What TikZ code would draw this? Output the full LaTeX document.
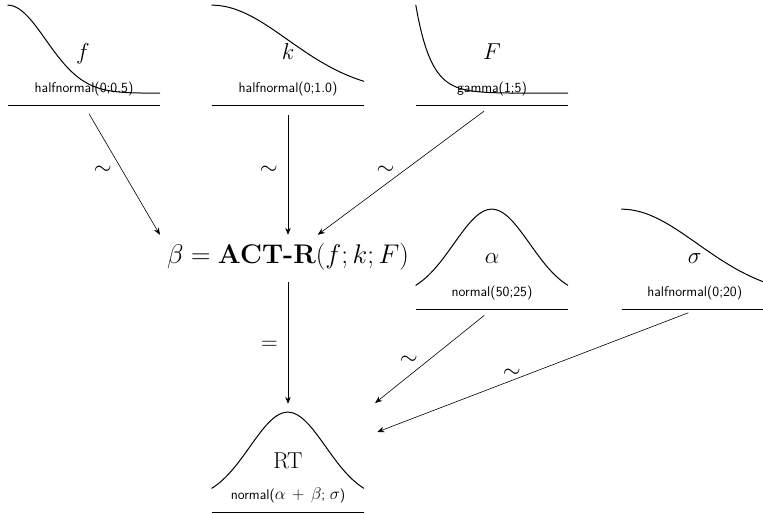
\RequirePackage{fix-cm}
\documentclass[tikz,border=0pt]{standalone}
\usepackage{amsmath}
\usetikzlibrary{arrows.meta,positioning}

\begin{document}
\begin{tikzpicture}[x=1pt,y=1pt,
  box/.style={minimum width=152pt,minimum height=100pt,inner sep=0pt},
  dens/.style={line width=1pt,line cap=round},
  uline/.style={line width=.8pt},
  sym/.style={font=\fontsize{23}{27}\selectfont,inner sep=0pt,anchor=base},
  dname/.style={font=\sffamily\fontsize{14}{16}\selectfont,inner sep=0pt,anchor=base},
  arr/.style={-{Stealth[length=7pt,width=5.5pt]},line width=.6pt},
  rel/.style={font=\fontsize{23}{27}\selectfont,inner sep=0pt,midway,left=10pt}]
\useasboundingbox (0,0) rectangle (763,514);
% priors
\node[box] (f) at (84,459) {};
\node[box] (k) at (288,459) {};
\node[box] (F) at (492,459) {};
\node[box] (alpha) at (492,255) {};
\node[box] (sigma) at (697.7,255) {};
\node[box] (RT) at (288,52) {};
\foreach \b in {f,k,F,alpha,sigma,RT}
  \draw[uline] (\b.south west) -- (\b.south east);
% density curves
\draw[dens,shift={(f.south west)}] plot[domain=0:152,samples=80] (\x,{12+88*exp(-0.5*(\x/38)*(\x/38))});
\draw[dens,shift={(k.south west)}] plot[domain=0:152,samples=80] (\x,{12+88*exp(-0.5*(\x/76)*(\x/76))});
\draw[dens,shift={(F.south west)}] plot[domain=0:152,samples=80] (\x,{12+88*exp(-5*\x/76)});
\draw[dens,shift={(alpha.south west)}] plot[domain=0:152,samples=80] (\x,{12+88*exp(-0.5*((\x-76)/38)*((\x-76)/38))});
\draw[dens,shift={(sigma.south west)}] plot[domain=0:152,samples=80] (\x,{12+88*exp(-0.5*(\x/76)*(\x/76))});
\draw[dens,shift={(RT.south west)}] plot[domain=0:152,samples=80] (\x,{12+88*exp(-0.5*((\x-76)/38)*((\x-76)/38))});
% symbols and distribution names
\node[sym] (fs) at ([xshift=-1pt,yshift=46pt]f.south) {$f$};
\node[sym] (ks) at ([yshift=46pt]k.south) {$k$};
\node[sym] (Fs) at ([yshift=46pt]F.south) {$F$};
\node[sym] (alphas) at ([yshift=46pt]alpha.south) {$\alpha$};
\node[sym] (sigmas) at ([xshift=-3pt,yshift=46pt]sigma.south) {$\sigma$};
\node[sym] (RTs) at ([yshift=44pt]RT.south) {RT};
\node[dname] (fd) at ([yshift=13pt]f.south) {halfnormal(0;0.5)};
\node[dname] (kd) at ([yshift=13pt]k.south) {halfnormal(0;1.0)};
\node[dname] (Fd) at ([yshift=13pt]F.south) {gamma(1;5)};
\node[dname] (alphad) at ([yshift=13pt]alpha.south) {normal(50;25)};
\node[dname] (sigmad) at ([xshift=-3pt,yshift=13pt]sigma.south) {halfnormal(0;20)};
\node[dname] (RTd) at ([yshift=13pt]RT.south) {normal({\fontsize{17}{19}\selectfont$\alpha\,+\,\beta$}; {\fontsize{17}{19}\selectfont$\sigma$})};
% model
\node[font=\fontsize{27}{32}\selectfont,minimum height=44pt,inner xsep=7pt,inner ysep=0pt] (beta) at (288,257) {$\beta = \mbox{\bfseries ACT-R}(f;k;F)$};
% links
\draw[arr,shorten <=10pt] (f.south) -- (beta.north west) node[rel] (r1) {$\sim$};
\draw[arr,shorten <=10pt] (k.south) -- (beta.north) node[rel] (r2) {$\sim$};
\draw[arr,shorten <=10pt] (F.south) -- (beta) node[rel] (r3) {$\sim$};
\draw[arr,shorten <=3pt,shorten >=8pt] (beta.south) -- (RT.north) node[rel] (r4) {$=$};
\draw[arr,shorten <=10pt,shorten >=14pt] (alpha.south) -- (RT.north east) node[rel] (r5) {$\sim$};
\draw[arr,shorten <=10pt,shorten >=14pt] (sigma.south) -- ([yshift=25pt]RT.east) node[rel] (r6) {$\sim$};
\end{tikzpicture}
\end{document}
